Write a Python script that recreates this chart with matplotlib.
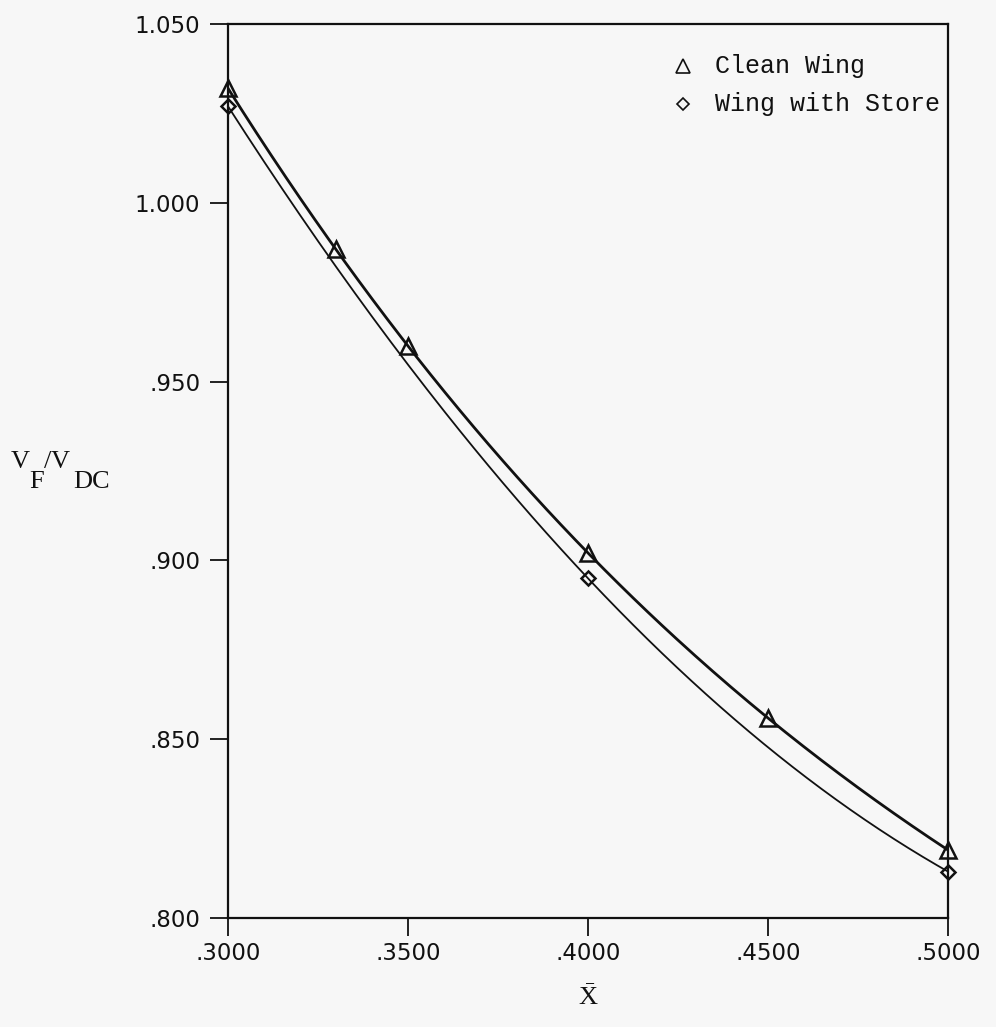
import numpy as np
import matplotlib
matplotlib.use('Agg')
import matplotlib.pyplot as plt

# data
x_clean = [0.30, 0.33, 0.35, 0.40, 0.45, 0.50]
vf_clean = [1.032, 0.987, 0.960, 0.902, 0.856, 0.819]
x_store = [0.30, 0.40, 0.50]
vf_store = [1.027, 0.895, 0.813]

xticks = [0.30, 0.35, 0.40, 0.45, 0.50]
xticklabels = ['.3000', '.3500', '.4000', '.4500', '.5000']
yticks = [0.800, 0.850, 0.900, 0.950, 1.000, 1.050]
yticklabels = ['.800', '.850', '.900', '.950', '1.000', '1.050']

plt.rcParams['mathtext.fontset'] = 'custom'
plt.rcParams['mathtext.rm'] = 'Liberation Serif'
plt.rcParams['mathtext.it'] = 'Liberation Serif:italic'

bg = '#f7f7f7'
fig = plt.figure(figsize=(9.96, 10.27), dpi=100, facecolor=bg)
ax = fig.add_axes([0.2289, 0.1061, 0.7229, 0.8705], facecolor=bg)

# smooth curves through the points
xs = np.linspace(0.30, 0.50, 200)
c_clean = np.polyfit(x_clean, vf_clean, 3)
c_store = np.polyfit(x_store, vf_store, 2)
ax.plot(xs, np.polyval(c_clean, xs), color='#111111', lw=2.0)
ax.plot(xs, np.polyval(c_store, xs), color='#111111', lw=1.3)

ax.plot(x_clean, vf_clean, linestyle='none', marker='^', ms=11, mfc='none',
        mec='#111111', mew=1.8, clip_on=False)
ax.plot(x_store, vf_store, linestyle='none', marker='D', ms=7, mfc='none',
        mec='#111111', mew=1.8, clip_on=False)

ax.set_xlim(0.30, 0.50)
ax.set_ylim(0.800, 1.050)
ax.set_xticks(xticks)
ax.set_xticklabels(xticklabels)
ax.set_yticks(yticks)
ax.set_yticklabels(yticklabels)
ax.tick_params(axis='both', direction='out', length=13, width=1.3,
               labelsize=16.5, colors='#111111')
ax.tick_params(axis='y', pad=7)
ax.tick_params(axis='x', pad=4)
for s in ax.spines.values():
    s.set_linewidth(1.6)
    s.set_color('#111111')

# legend drawn by hand
mono = 'Liberation Mono'
ax.plot([0.632], [0.953], transform=ax.transAxes, marker='^', ms=10, mfc='none',
        mec='#111111', mew=1.2, linestyle='none')
ax.plot([0.632], [0.9105], transform=ax.transAxes, marker='D', ms=6.5, mfc='none',
        mec='#111111', mew=1.2, linestyle='none')
ax.text(0.676, 0.953, 'Clean Wing', transform=ax.transAxes, family=mono,
        fontsize=18, va='center', ha='left', color='#111111')
ax.text(0.676, 0.9105, 'Wing with Store', transform=ax.transAxes, family=mono,
        fontsize=18, va='center', ha='left', color='#111111')

# axis labels
serif = 'Liberation Serif'
lab = dict(family=serif, fontsize=19, va='center', ha='left', color='#111111')
fig.text(11 / 996, 1 - 462 / 1027, 'V', **lab)
fig.text(29 / 996, 1 - 482 / 1027, 'F', **lab)
fig.text(44 / 996, 1 - 462 / 1027, '/', **lab)
fig.text(51 / 996, 1 - 462 / 1027, 'V', **lab)
fig.text(73 / 996, 1 - 482 / 1027, 'DC', **lab)
fig.text(588 / 996, 1 - 998 / 1027, r'$\bar{\mathrm{X}}$', fontsize=19,
         va='center', ha='center', color='#111111')

fig.savefig('out.png', dpi=100, facecolor=bg)
